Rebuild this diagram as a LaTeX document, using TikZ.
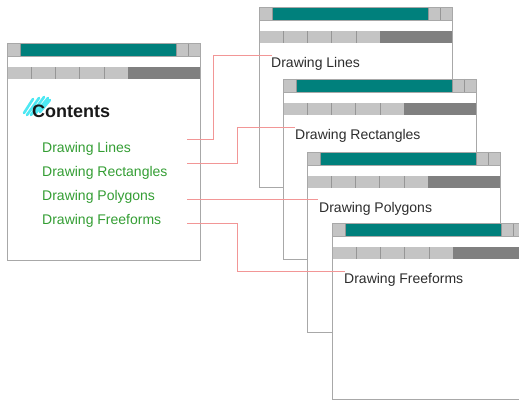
\documentclass[tikz,border=0pt]{standalone}
\usepackage{fontspec}
\setmainfont{Liberation Sans}

\definecolor{wteal}{RGB}{0,128,124}
\definecolor{wedge}{RGB}{168,168,168}
\definecolor{lightbar}{RGB}{196,196,196}
\definecolor{darkbar}{RGB}{128,128,128}
\definecolor{sepline}{RGB}{150,150,150}
\definecolor{linkpink}{RGB}{242,150,150}
\definecolor{tocgreen}{RGB}{52,158,52}
\definecolor{wintextc}{RGB}{45,45,45}
\definecolor{marker}{RGB}{20,225,240}

\tikzset{
  winframe/.style={draw=wedge, fill=white, line width=0.9pt},
  edge/.style={draw=wedge, line width=0.8pt},
  sep/.style={draw=sepline, line width=0.6pt},
  linkline/.style={color=linkpink, line width=0.9pt},
  tocitem/.style={anchor=base west, inner sep=0pt, text=tocgreen,
    font=\fontsize{14}{16}\selectfont},
  wintext/.style={anchor=base west, inner sep=0pt, text=wintextc,
    font=\fontsize{14}{16}\selectfont},
  heading/.style={anchor=base west, inner sep=0pt, text=black!90,
    font=\fontsize{18}{20}\selectfont\bfseries},
  scribble/.style={draw=marker, line width=2.6pt, line join=round,
    line cap=round, opacity=0.75}
}

% A window: #1 left, #2 top, #3 height, #4 name of its corner
\newcommand\appwindow[4]{%
  \begin{scope}[shift={(#1,#2)}]
    \path[winframe] (0,0) rectangle (193,#3);
    \coordinate (#4) at (0,0);
    % title bar
    \path[fill=lightbar] (0,0) rectangle (193,13.5);
    \path[fill=wteal] (13,0) rectangle (169,13.5);
    \draw[sep] (13,0) -- (13,13.5) (169,0) -- (169,13.5) (181,0) -- (181,13.5);
    \draw[edge] (0,0) rectangle (193,13.5);
    % toolbar
    \path[fill=lightbar] (0,24.5) rectangle (121,36.5);
    \path[fill=darkbar] (121,24.5) rectangle (193,36.5);
    \foreach \k in {1,...,4} \draw[sep] (24.2*\k,24.5) -- (24.2*\k,36.5);
    \draw[edge] (0,0) rectangle (193,#3);
  \end{scope}}

\begin{document}
\begin{tikzpicture}[x=1pt, y=-1pt]
  \useasboundingbox (0,0) rectangle (519,403);

  % contents window
  \appwindow{7}{43}{217}{toc}
  % highlighter marks behind the heading
  \draw[scribble] (24,113) -- (33,99) (27,115) -- (39,98) (31,115) -- (44,97)
                  (35,114) -- (48,98) (40,112) -- (50,100);
  \node[heading] (contents) at (32,117.3) {Contents};
  \node[tocitem] (c1) at (42,152.5) {Drawing Lines};
  \node[tocitem] (c2) at (42,176.5) {Drawing Rectangles};
  \node[tocitem] (c3) at (42,200.5) {Drawing Polygons};
  \node[tocitem] (c4) at (42,224.5) {Drawing Freeforms};

  % topic windows, stacked
  \appwindow{259}{7}{180}{w1}
  \node[wintext] (p1) at (271,67.5) {Drawing Lines};
  \appwindow{283}{79}{180}{w2}
  \node[wintext] (p2) at (295,139.5) {Drawing Rectangles};
  \appwindow{307}{152}{180}{w3}
  \node[wintext] (p3) at (319,212.5) {Drawing Polygons};
  \appwindow{332}{223}{176}{w4}
  \node[wintext] (p4) at (344,283.5) {Drawing Freeforms};

  % link ends and bends
  \coordinate (s1) at (187,139.3);
  \coordinate (s2) at (187,163.3);
  \coordinate (s3) at (187,199.5);
  \coordinate (s4) at (187,223.3);
  \coordinate (e1) at (272,55.7);
  \coordinate (e2) at (295,127.3);
  \coordinate (e3) at (318,199.5);
  \coordinate (e4) at (345,271);
  \coordinate (b1) at (213,0);
  \coordinate (b2) at (237,0);

  % links from the contents to the topics
  \draw[linkline] (s1) -| (b1 |- e1) -- (e1);
  \draw[linkline] (s2) -| (b2 |- e2) -- (e2);
  \draw[linkline] (s3) -- (e3);
  \draw[linkline] (s4) -| (b2 |- e4) -- (e4);
\end{tikzpicture}
\end{document}
